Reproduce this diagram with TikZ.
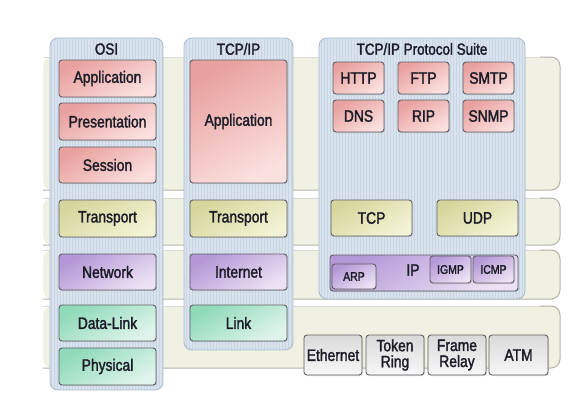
\documentclass[tikz,border=0pt]{standalone}
\usepackage{fontspec}
\setmainfont[FakeStretch=0.84,FakeBold=1.8]{Liberation Sans}
\usetikzlibrary{shadows}
\definecolor{bandfill}{HTML}{F1F1E3}
\definecolor{bandline}{HTML}{B4B4AC}
\definecolor{contfill}{HTML}{D9E3EE}
\definecolor{contgrid}{HTML}{C9D5E4}
\definecolor{contline}{HTML}{A9B9CC}
\definecolor{pinkA}{HTML}{E9A19F}
\definecolor{pinkB}{HTML}{FAE0DE}
\definecolor{yelA}{HTML}{D6D69C}
\definecolor{yelB}{HTML}{F3F3D6}
\definecolor{purA}{HTML}{B497D6}
\definecolor{purB}{HTML}{ECE2F4}
\definecolor{grnA}{HTML}{8FDAB9}
\definecolor{grnB}{HTML}{E0F4EC}
\definecolor{gryA}{HTML}{DADADA}
\definecolor{gryB}{HTML}{F7F7F7}
\definecolor{boxline}{HTML}{5E5E66}
\definecolor{txt}{HTML}{1C1C28}
\tikzset{
  lbox/.style={draw=boxline, line width=0.9pt, rounded corners=3pt, inner sep=0pt,
    font=\fontsize{16.5}{17}\selectfont, text=txt, align=center,
    drop shadow={opacity=0.25, shadow xshift=1pt, shadow yshift=-1pt}},
  pinkbox/.style={lbox, top color=pinkA, bottom color=pinkB, shading angle=30},
  yelbox/.style={lbox, top color=yelA, bottom color=yelB, shading angle=30},
  purbox/.style={lbox, top color=purA, bottom color=purB, shading angle=30},
  grnbox/.style={lbox, top color=grnA, bottom color=grnB, shading angle=30},
  grybox/.style={lbox, top color=gryA, bottom color=gryB, shading angle=0},
  smallbox/.style={font=\fontsize{12.5}{14}\selectfont},
  header/.style={font=\fontsize{16}{18}\selectfont, text=txt, inner sep=0pt},
}
\newcommand{\band}[2]{%
  \fill[bandfill, rounded corners=9pt] (43,#1) -- (560,#1) -- (560,#2) -- (43,#2) -- cycle;
  \draw[bandline!50, line width=0.7pt] (43,#1) -- (550,#1);
  \draw[bandline, line width=1pt, rounded corners=9pt] (540,#1) -- (560,#1) -- (560,#2) -- (43,#2);
}
\newcommand{\container}[4]{%
  \begin{scope}
    \clip[rounded corners=8pt] (#1,#2) rectangle (#3,#4);
    \fill[contfill] (#1,#2) rectangle (#3,#4);
    \draw[contgrid, line width=0.3pt, step=3] (#1,#2) grid (#3,#4);
  \end{scope}
  \draw[contline, line width=0.8pt, rounded corners=8pt] (#1,#2) rectangle (#3,#4);
}
\begin{document}
\begin{tikzpicture}[x=1pt, y=-1pt]
\useasboundingbox (0,0) rectangle (584,413);
\fill[white] (0,0) rectangle (584,413);
% layer bands
\band{57}{190}
\band{198}{245}
\band{250}{299}
\band{306}{368}
% column containers
\container{50}{38}{163}{390}
\container{184}{38}{293}{350}
\container{319}{38}{525}{299}
% headers
\node[header] (hosi) at (106.5,49) {OSI};
\node[header] (htcp) at (238.5,49) {TCP/IP};
\node[header] (hsuite) at (422,49) {TCP/IP Protocol Suite};
% OSI column
\node[pinkbox, minimum width=97pt, minimum height=37pt] (oapp) at (107.5,78.5) {Application};
\node[pinkbox, minimum width=97pt, minimum height=37pt] (opre) at (107.5,121.5) {Presentation};
\node[pinkbox, minimum width=97pt, minimum height=36pt] (oses) at (107.5,165) {Session};
\node[yelbox, minimum width=97pt, minimum height=37pt] (otra) at (107.5,218.5) {Transport};
\node[purbox, minimum width=97pt, minimum height=36pt] (onet) at (107.5,272) {Network};
\node[grnbox, minimum width=97pt, minimum height=36pt] (odl) at (107.5,323) {Data-Link};
\node[grnbox, minimum width=97pt, minimum height=37pt] (ophy) at (107.5,366.5) {Physical};
% TCP/IP column
\node[pinkbox, minimum width=97pt, minimum height=123pt] (tapp) at (238.5,121.5) {Application};
\node[yelbox, minimum width=97pt, minimum height=37pt] (ttra) at (238.5,218.5) {Transport};
\node[purbox, minimum width=97pt, minimum height=36pt] (tint) at (238.5,272) {Internet};
\node[grnbox, minimum width=97pt, minimum height=36pt] (tlink) at (238.5,323) {Link};
% Protocol suite
\node[pinkbox, minimum width=51pt, minimum height=32pt] (http) at (358.5,78) {HTTP};
\node[pinkbox, minimum width=51pt, minimum height=32pt] (ftp) at (423.5,78) {FTP};
\node[pinkbox, minimum width=51pt, minimum height=32pt] (smtp) at (488.5,78) {SMTP};
\node[pinkbox, minimum width=51pt, minimum height=32pt] (dns) at (358.5,116) {DNS};
\node[pinkbox, minimum width=51pt, minimum height=32pt] (rip) at (423.5,116) {RIP};
\node[pinkbox, minimum width=51pt, minimum height=32pt] (snmp) at (488.5,116) {SNMP};
\node[yelbox, minimum width=81pt, minimum height=36pt] (tcp) at (371.5,218) {TCP};
\node[yelbox, minimum width=81pt, minimum height=36pt] (udp) at (477.5,218) {UDP};
\node[purbox, minimum width=188pt, minimum height=36pt] (ip) at (424,273) {};
\node[font=\fontsize{16.5}{17}\selectfont, text=txt, inner sep=0pt] (iplabel) at (413,270) {IP};
\node[purbox, smallbox, minimum width=44pt, minimum height=25pt] (arp) at (354,276.5) {ARP};
\node[purbox, smallbox, minimum width=41pt, minimum height=27pt] (igmp) at (450.5,269.5) {IGMP};
\node[purbox, smallbox, minimum width=41pt, minimum height=27pt] (icmp) at (493.5,269.5) {ICMP};
% link technologies
\node[grybox, minimum width=58pt, minimum height=40pt] (eth) at (333,355) {Ethernet};
\node[grybox, minimum width=58pt, minimum height=40pt, font=\fontsize{16.5}{16}\selectfont] (tok) at (395,355) {Token\\Ring};
\node[grybox, minimum width=58pt, minimum height=40pt, font=\fontsize{16.5}{16}\selectfont] (fr) at (457,355) {Frame\\Relay};
\node[grybox, minimum width=59pt, minimum height=40pt] (atm) at (518.5,355) {ATM};
\end{tikzpicture}
\end{document}
